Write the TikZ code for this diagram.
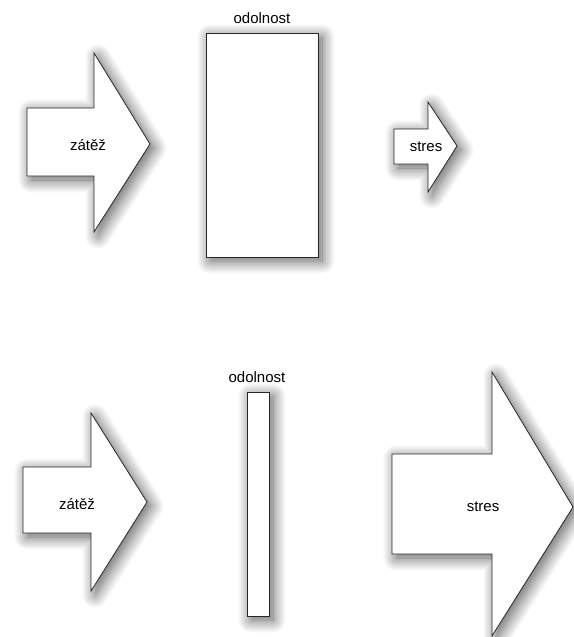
\documentclass[tikz,border=0pt]{standalone}
\usepackage{fontspec}
\setmainfont{Liberation Sans}
\usepackage{tikz}
\usetikzlibrary{shadows.blur}
\tikzset{
  shp/.style  ={draw=black!85, fill=white, line width=0.8pt, line join=miter,
                blur shadow={shadow xshift=4pt, shadow yshift=-4pt,
                shadow blur radius=13pt, shadow blur steps=16, shadow opacity=65}},
  lbl/.style  ={font=\fontsize{15}{18}\selectfont, inner sep=0pt},
}

\begin{document}
\begin{tikzpicture}[x=1pt,y=-1pt]
\useasboundingbox (0,0) rectangle (573,637);

% top: load, resistance, stress
\draw[shp] (27,108) -- (94,108) -- (94,53) -- (150,144) -- (94,232) -- (94,176) -- (27,176) -- cycle;
\node[lbl] (zatez1) at (88,145) {zátěž};
\draw[shp] (206,33) rectangle (318,257);
\node[lbl] (odol1) at (262,18) {odolnost};
\draw[shp] (394,129) -- (428,129) -- (428,102) -- (457,146) -- (428,192) -- (428,164) -- (394,164) -- cycle;
\node[lbl] (stres1) at (426,147) {stres};

% bottom: same load, thin resistance, big stress
\draw[shp] (23,467) -- (91,467) -- (91,413) -- (147,502) -- (91,591) -- (91,533) -- (23,533) -- cycle;
\node[lbl] (zatez2) at (77,504) {zátěž};
\draw[shp] (247,392) rectangle (269,616);
\node[lbl] (odol2) at (257,377) {odolnost};
\draw[shp] (392,454) -- (492,454) -- (492,372) -- (573,507) -- (492,636) -- (492,554) -- (392,554) -- cycle;
\node[lbl] (stres2) at (483,507) {stres};
\end{tikzpicture}
\end{document}
